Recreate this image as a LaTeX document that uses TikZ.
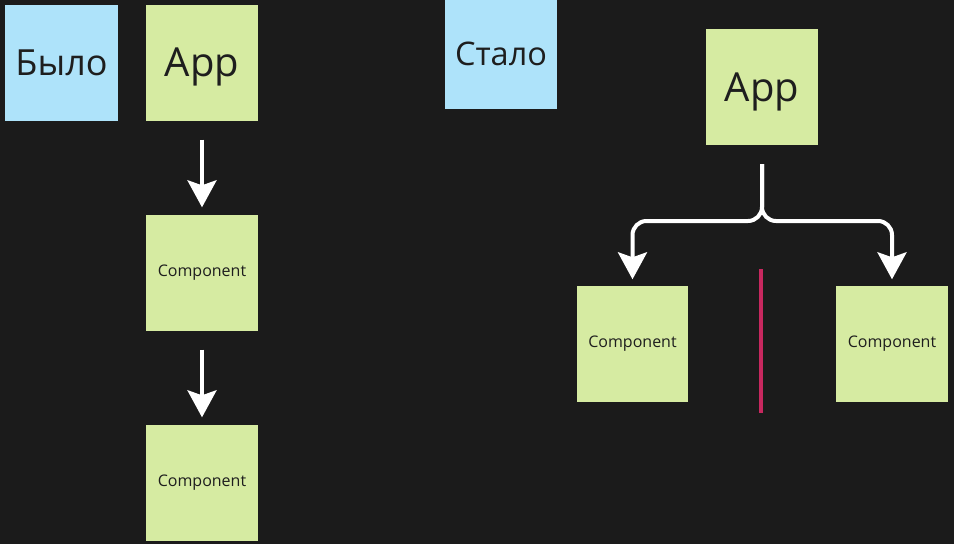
\documentclass[tikz,border=0pt]{standalone}
\usepackage{fontspec}
\setmainfont{Open Sans}
\usetikzlibrary{arrows.meta}
\definecolor{boardbg}{HTML}{1B1B1B}
\definecolor{stickyblue}{HTML}{AEE3FA}
\definecolor{stickygreen}{HTML}{D6EBA2}
\definecolor{splitred}{HTML}{C8285F}
\definecolor{inktext}{HTML}{1E1E1E}
\begin{document}
\begin{tikzpicture}[x=1pt, y=-1pt, node distance=210pt,
  sticky/.style={rectangle, minimum width=112pt, minimum height=116pt, inner sep=0pt, text=inktext},
  conn/.style={draw=white, line width=4pt, -{Stealth[width=29pt,length=27pt,inset=5pt]}}]
  \useasboundingbox[fill=boardbg] (0,0) rectangle (954,544);
  % before
  \node (wasL) [sticky, fill=stickyblue, minimum width=113pt, font=\fontsize{36}{40}\selectfont] at (61.5,62.5) {Было};
  \node (appL) [sticky, fill=stickygreen, text depth=0pt, font=\fontsize{40}{44}\selectfont] at (202,62.5) {App};
  \node (compA) [sticky, fill=stickygreen, below of=appL, font=\fontsize{16}{18}\selectfont] {Component};
  \node (compB) [sticky, fill=stickygreen, below of=compA, font=\fontsize{16}{18}\selectfont] {Component};
  \draw[conn] ([yshift=-19pt]appL.south) -- ([yshift=7pt]compA.north);
  \draw[conn] ([yshift=-19pt]compA.south) -- ([yshift=7pt]compB.north);
  % after
  \node (nowL) [sticky, fill=stickyblue, minimum height=110pt, font=\fontsize{32.5}{36}\selectfont] at (501,54) {Стало};
  \node (appR) [sticky, fill=stickygreen, text depth=0pt, font=\fontsize{40}{44}\selectfont] at (762,87) {App};
  \node (compC) [sticky, fill=stickygreen, minimum width=111pt, font=\fontsize{16}{18}\selectfont] at (632.5,343.5) {Component};
  \node (compD) [sticky, fill=stickygreen, font=\fontsize{16}{18}\selectfont] at (892,343.5) {Component};
  \coordinate (fork) at (762,221);
  \draw[conn, rounded corners=14pt] ([yshift=-19pt]appR.south) -- (fork) -| ([yshift=6pt]compC.north);
  \draw[conn, rounded corners=14pt] ([yshift=-19pt]appR.south) -- (fork) -| ([yshift=6pt]compD.north);
  \coordinate (splitT) at (761,269);
  \coordinate (splitB) at (761,413);
  \draw[splitred, line width=4pt] (splitT) -- (splitB);
\end{tikzpicture}
\end{document}
